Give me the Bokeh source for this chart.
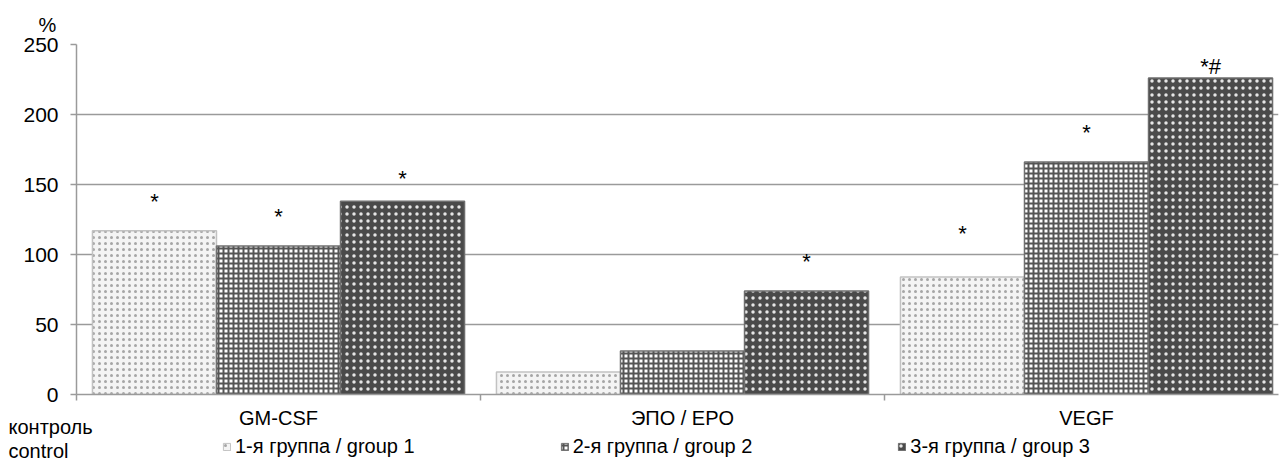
from bokeh.plotting import figure
from bokeh.models import (ColumnDataSource, FixedTicker, Legend, LegendItem, Label,
                          Range1d)
from bokeh.layouts import column
from bokeh.transform import dodge
from bokeh.core.properties import value
from bokeh.embed import file_html
from bokeh.resources import INLINE

# ---- data ----
categories = ["GM-CSF", "ЭПО / EPO", "VEGF"]
group_names = ["1-я группа / group 1", "2-я группа / group 2", "3-я группа / group 3"]
group1 = [117, 16, 84]
group2 = [106, 31, 166]
group3 = [138, 74, 226]
marks1 = ["*", "", "*"]
marks2 = ["*", "", "*"]
marks3 = ["*", "*", "*#"]
mark_y1 = [138, 0, 115]
mark_y2 = [127, 0, 187]
mark_y3 = [154, 95, 234]
y_ticks = [0, 50, 100, 150, 200, 250]
y_unit = "%"
control_lines = ["контроль", "control"]

# ---- layout constants ----
FONT = "Liberation Sans"
GRID = "#9a9a9a"
W = 1279
FRAME_L, FRAME_T, FRAME_B = 76, 44, 394
CAT_PX = 404.0
X_END = (W - 1 - FRAME_L) / CAT_PX
H1 = 404
H2 = 463 - H1

xc = [i + 0.5 for i in range(len(categories))]
src = ColumnDataSource(dict(x=xc, g1=group1, g2=group2, g3=group3,
                            m1=marks1, m2=marks2, m3=marks3,
                            my1=mark_y1, my2=mark_y2, my3=mark_y3))

p = figure(width=W, height=H1, output_backend="svg", toolbar_location=None,
           x_range=Range1d(0, X_END), y_range=Range1d(0, 250),
           min_border_left=FRAME_L, min_border_right=1, min_border_top=FRAME_T,
           min_border_bottom=H1 - FRAME_B)
p.outline_line_color = None
p.frame_align = False

bw = 0.307
styles = [
    dict(fill_color="#f4f4f4", line_color="#c2c2c2", hatch_pattern="dot",
         hatch_color="#a6a6a6", hatch_scale=6, hatch_weight=1.2),
    dict(fill_color="#ffffff", line_color="#707070", hatch_pattern="cross",
         hatch_color="#555555", hatch_scale=5, hatch_weight=2.0),
    dict(fill_color="#4a4a4a", line_color="#6e6e6e", hatch_pattern="dot",
         hatch_color="#e6e6e6", hatch_scale=7, hatch_weight=1.2),
]
offsets = [-bw, 0.0, bw]
cols = ["g1", "g2", "g3"]
for k, col in enumerate(cols):
    p.vbar(x=dodge("x", offsets[k], range=p.x_range), top=col, width=bw, bottom=0,
           source=src, line_width=1.5, **styles[k])
    p.text(x=dodge("x", offsets[k], range=p.x_range), y="my%d" % (k + 1),
           text="m%d" % (k + 1), source=src, text_align="center",
           text_baseline="alphabetic", text_font=value(FONT),
           text_font_size="22px", text_color="black")

# y axis
yax = p.yaxis[0]
yax.ticker = FixedTicker(ticks=y_ticks)
yax.axis_line_color = GRID
yax.axis_line_width = 1.5
yax.major_tick_line_color = GRID
yax.major_tick_line_width = 1.5
yax.major_tick_out = 6
yax.major_tick_in = 0
yax.minor_tick_line_color = None
yax.major_label_text_font = FONT
yax.major_label_text_font_size = "21px"
yax.major_label_text_color = "black"
yax.major_label_standoff = 12

# x axis: only the category-boundary ticks (labels are drawn in the strip below)
xax = p.xaxis[0]
xax.ticker = FixedTicker(ticks=[], minor_ticks=list(range(len(categories) + 1)))
xax.axis_line_color = GRID
xax.axis_line_width = 1.5
xax.major_tick_line_color = None
xax.major_tick_out = 0
xax.major_tick_in = 0
xax.minor_tick_line_color = GRID
xax.minor_tick_line_width = 1.5
xax.minor_tick_out = 6
xax.minor_tick_in = 0
xax.major_label_standoff = 0

p.xgrid.grid_line_color = None
p.ygrid.ticker = FixedTicker(ticks=y_ticks)
p.ygrid.grid_line_color = GRID
p.ygrid.grid_line_width = 1.5
p.ygrid.level = "underlay"

p.title.text = y_unit
p.title.align = "left"
p.title.offset = -38
p.title.standoff = 18
p.title.text_font = FONT
p.title.text_font_size = "20px"
p.title.text_font_style = "normal"
p.title.text_color = "black"

# ---- bottom strip: category labels, control label, legend ----
q = figure(width=W, height=H2, output_backend="svg", toolbar_location=None,
           x_range=Range1d(-FRAME_L / CAT_PX, (W - FRAME_L) / CAT_PX),
           y_range=Range1d(H2, 0), x_axis_location=None, y_axis_location=None,
           min_border=0, min_border_left=0, min_border_right=0,
           min_border_top=0, min_border_bottom=0)
q.outline_line_color = None
q.grid.visible = False
q.frame_align = False

q.text(x=xc, y=[417 - H1] * len(xc), text=categories, text_align="center",
       text_baseline="middle", text_font=value(FONT), text_font_size="20px",
       text_color="black")
q.add_layout(Label(x=8, y=426 - H1, x_units="screen", y_units="data",
                   text=control_lines[0], text_font=FONT, text_font_size="20px",
                   text_color="black", text_align="left", text_baseline="alphabetic"))
q.add_layout(Label(x=8, y=450 - H1, x_units="screen", y_units="data",
                   text=control_lines[1], text_font=FONT, text_font_size="20px",
                   text_color="black", text_align="left", text_baseline="alphabetic"))

# legend swatches: hidden copies of the bar renderers (same data & styles)
leg_r = [q.vbar(x="x", top=c, width=bw, source=src, line_width=1, visible=False, **s)
         for c, s in zip(cols, styles)]
legend = Legend(items=[LegendItem(label=n, renderers=[r]) for n, r in zip(group_names, leg_r)],
                orientation="horizontal", location=(222, 5),
                glyph_width=9, glyph_height=9, label_standoff=4, spacing=145,
                padding=0, margin=0, border_line_color=None, background_fill_alpha=0,
                label_text_font=FONT, label_text_font_size="20px", label_text_color="black")
q.add_layout(legend, "center")

open("out.html", "w").write(file_html(column(p, q, spacing=0), INLINE))
